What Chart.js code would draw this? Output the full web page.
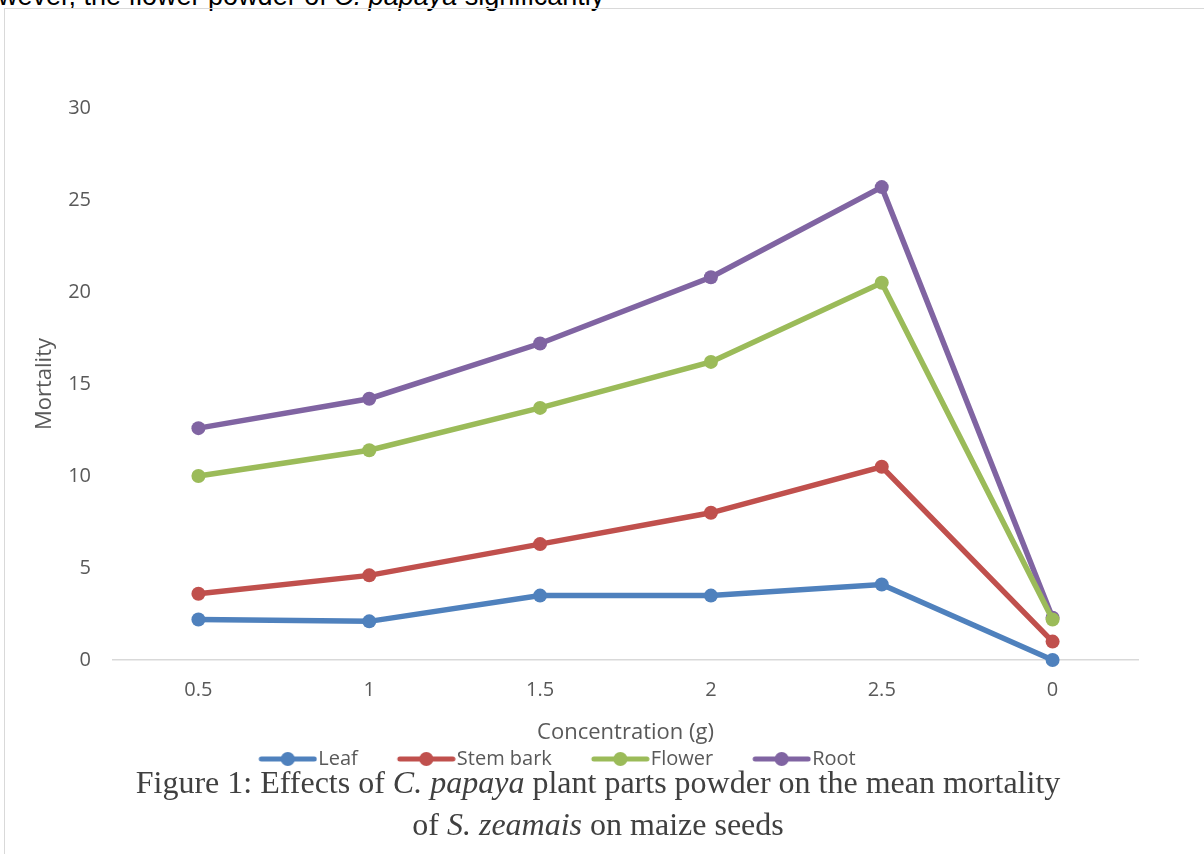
<!DOCTYPE html>
<html>
<head>
<meta charset="utf-8">
<script src="https://cdn.jsdelivr.net/npm/chart.js@4/dist/chart.umd.min.js"></script>
<style>
  body { margin: 0; background: #fff; width: 1204px; height: 854px; overflow: hidden; position: relative; }
  #top-text { position: absolute; left: -2px; top: -19px; font: 27px "Liberation Sans", Arial, sans-serif; color: #000; white-space: nowrap; }
  #frame { position: absolute; left: 4px; top: 8px; width: 1240px; height: 900px; border: 1px solid #d9d9d9; }
  #wrap { position: absolute; left: 0; top: 0; width: 1204px; height: 779px; }
  #caption { position: absolute; left: 0; width: 1196px; top: 761px; text-align: center; font: 32px "Liberation Serif", "Times New Roman", serif; color: #404040; line-height: 42px; }
</style>
</head>
<body>
<div id="top-text">wever, the flower powder of <i>C. papaya</i> significantly</div>
<div id="frame"></div>
<div id="wrap"><canvas id="chart"></canvas></div>
<div id="caption">Figure 1: Effects of <i>C. papaya</i> plant parts powder on the mean mortality<br>of <i>S. zeamais</i> on maize seeds</div>
<script>
const concentrations = ["0.5", "1", "1.5", "2", "2.5", "0"];
const leaf = [2.2, 2.1, 3.5, 3.5, 4.1, 0];
const stemBark = [3.6, 4.6, 6.3, 8.0, 10.5, 1.0];
const flower = [10.0, 11.4, 13.7, 16.2, 20.5, 2.2];
const root = [12.6, 14.2, 17.2, 20.8, 25.7, 2.3];
const seriesNames = ["Leaf", "Stem bark", "Flower", "Root"];
const seriesColors = ["#4f81bd", "#c0504d", "#9bbb59", "#8064a2"];

const fontFamily = '"Open Sans", "Noto Sans", sans-serif';
const textGrey = "#595959";

// legend marker: line with a dot, drawn at the right end of a wider transparent image
const markerBox = 86;
function legendMarker(color) {
  const c = document.createElement("canvas");
  c.width = markerBox + 18; c.height = 16;
  const ctx = c.getContext("2d");
  const x1 = c.width - 1, x0 = x1 - 57;
  ctx.strokeStyle = color;
  ctx.lineWidth = 5;
  ctx.lineCap = "round";
  ctx.beginPath();
  ctx.moveTo(x0 + 2, 8); ctx.lineTo(x1 - 2, 8);
  ctx.stroke();
  ctx.fillStyle = color;
  ctx.beginPath();
  ctx.arc((x0 + x1) / 2, 8, 7, 0, Math.PI * 2);
  ctx.fill();
  return c;
}

// Excel put the legend a bit left of centre
const shiftLegend = {
  id: "shiftLegend",
  afterLayout(chart) {
    chart.legend.left -= 30;
    chart.legend.right -= 30;
  },
};

const datasets = [leaf, stemBark, flower, root].map((data, i) => ({
  label: seriesNames[i],
  data: data,
  borderColor: seriesColors[i],
  backgroundColor: seriesColors[i],
  borderWidth: 5.5,
  pointRadius: 7,
  pointHoverRadius: 7,
  pointBorderWidth: 0,
  tension: 0,
  fill: false,
  clip: false,
}));

new Chart(document.getElementById("chart"), {
  type: "line",
  data: { labels: concentrations, datasets: datasets },
  plugins: [shiftLegend],
  options: {
    responsive: true,
    maintainAspectRatio: false,
    animation: false,
    layout: { padding: { left: 0, right: 66, top: 108, bottom: 0 } },
    scales: {
      x: {
        offset: true,
        grid: { display: false, drawTicks: false },
        border: { display: true, color: "#d9d9d9", width: 1.5 },
        ticks: { color: textGrey, font: { family: fontFamily, size: 20 }, padding: 18 },
        title: { display: true, text: "Concentration (g)", color: textGrey, font: { family: fontFamily, size: 22 }, padding: 0 },
        afterFit: (scale) => { scale.height = 86; },
      },
      y: {
        min: 0,
        max: 30,
        ticks: { stepSize: 5, color: textGrey, font: { family: fontFamily, size: 20 }, padding: 22 },
        grid: { display: false, drawTicks: false },
        border: { display: false },
        title: { display: true, text: "Mortality", color: textGrey, font: { family: fontFamily, size: 22 }, padding: { top: 32, bottom: 0 } },
        afterFit: (scale) => { scale.width = 113; },
      },
    },
    plugins: {
      legend: {
        position: "bottom",
        labels: {
          usePointStyle: true,
          pointStyleWidth: markerBox,
          color: textGrey,
          font: { family: fontFamily, size: 20 },
          padding: 3,
          generateLabels: (chart) => chart.data.datasets.map((ds, i) => ({
            text: ds.label,
            fillStyle: ds.borderColor,
            strokeStyle: ds.borderColor,
            fontColor: textGrey,
            pointStyle: legendMarker(ds.borderColor),
            datasetIndex: i,
            hidden: false,
          })),
        },
      },
      tooltip: { enabled: false },
    },
  },
});
</script>
</body>
</html>
